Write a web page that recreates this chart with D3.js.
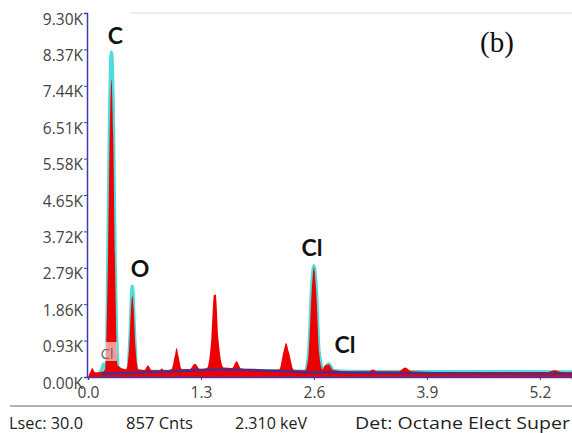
<!DOCTYPE html>
<html lang="en">
<head>
<meta charset="UTF-8">
<title>EDS spectrum (b)</title>
<script src="https://d3js.org/d3.v7.min.js"></script>
<style>
  body { margin: 0; background: #fff; }
  svg text { font-family: "Open Sans", sans-serif; }
</style>
</head>
<body>
<div id="chart"></div>
<script>
// measured spectrum (keV, counts)
const specKeV = [0.00, 0.03, 0.05, 0.08, 0.15, 0.20, 0.23, 0.25, 0.27, 0.29, 0.31, 0.34,
  0.44, 0.475, 0.495, 0.51, 0.525, 0.545, 0.58, 0.65, 0.69, 0.73, 0.82, 0.85, 0.88, 0.96,
  1.00, 1.02, 1.04, 1.08, 1.17, 1.23, 1.29, 1.37, 1.42, 1.45, 1.47, 1.50, 1.56, 1.66,
  1.71, 1.76, 2.00, 2.20, 2.25, 2.28, 2.31, 2.37, 2.50, 2.54, 2.575, 2.60, 2.625, 2.66,
  2.70, 2.73, 2.77, 2.82, 3.00, 3.24, 3.28, 3.32, 3.58, 3.65, 3.72, 4.00, 5.30, 5.37,
  5.44, 5.57];
const specCnts = [0, 150, 230, 120, 130, 200, 3000, 6200, 7600, 6200, 3000, 300,
  200, 800, 1750, 2070, 1750, 800, 200, 180, 300, 180, 170, 220, 170, 200,
  550, 740, 550, 200, 200, 340, 200, 230, 1000, 2100, 2100, 1000, 240, 230,
  400, 220, 180, 190, 650, 870, 650, 180, 170, 600, 2200, 2800, 2200, 600,
  200, 300, 320, 180, 150, 150, 190, 150, 150, 240, 150, 130, 130, 170,
  130, 120];

// fitted peaks (cyan)
const fitKeV = [0.12, 0.15, 0.18, 0.21, 0.23, 0.25, 0.27, 0.29, 0.31, 0.35, 0.46, 0.485,
  0.51, 0.535, 0.56, 0.70, 2.50, 2.54, 2.575, 2.60, 2.625, 2.66, 2.71, 2.77, 2.83, 3.00, 5.57];
const fitCnts = [120, 140, 330, 140, 3200, 6800, 8300, 6800, 3200, 150, 150, 1100,
  2320, 1100, 150, 140, 150, 600, 2300, 2840, 2300, 600, 200, 330, 160, 140, 130];

// background (purple)
const bgKeV = [0.15, 0.5, 1.0, 1.5, 1.9, 2.4, 3.0, 4.0, 5.57];
const bgCnts = [80, 110, 150, 190, 180, 130, 110, 90, 80];

const yTicks = [0, 930, 1860, 2790, 3720, 4650, 5580, 6510, 7440, 8370, 9300];
const xTicks = [0.0, 1.3, 2.6, 3.9, 5.2];

const peakLabels = [
  {t: "C", e: 0.316, c: 8500},
  {t: "O", e: 0.598, c: 2560},
  {t: "Cl", e: 2.577, c: 3090},
  {t: "Cl", e: 2.957, c: 615}
];
const footer = ["Lsec: 30.0", "857 Cnts", "2.310 keV", "Det: Octane Elect Super"];
const footerX = [9, 126, 235, 355];
const footerW = [74, 67, 72, 215];

const W = 572, H = 433;
const svg = d3.select("#chart").append("svg")
  .attr("width", W).attr("height", H);

const x = d3.scaleLinear().domain([0, 5.57]).range([88, 572]);
const y = d3.scaleLinear().domain([0, 9300]).range([377, 13]);

// light top frame
svg.append("line").attr("x1", 130).attr("x2", W).attr("y1", 13).attr("y2", 13)
  .attr("stroke", "#eeeeee").attr("stroke-width", 2);

const spec = specKeV.map((e, i) => [e, specCnts[i]]);
const fit = fitKeV.map((e, i) => [e, fitCnts[i]]);
const bg = bgKeV.map((e, i) => [e, bgCnts[i]]);

// cyan fit drawn under
svg.append("path").datum(fit)
  .attr("d", d3.line().x(d => x(d[0])).y(d => y(d[1])).curve(d3.curveMonotoneX))
  .attr("fill", "none").attr("stroke", "#4fdcdc").attr("stroke-width", 3.5)
  .attr("stroke-linejoin", "round");

svg.append("path").datum(spec)
  .attr("d", d3.area().x(d => x(d[0])).y0(y(0)).y1(d => y(d[1])).curve(d3.curveMonotoneX))
  .attr("fill", "#ee0000");

svg.append("path").datum(bg)
  .attr("d", d3.line().x(d => x(d[0])).y(d => y(d[1])).curve(d3.curveMonotoneX))
  .attr("fill", "none").attr("stroke", "#4b2d8f").attr("stroke-width", 2.5);

// axes
const yAxis = svg.append("g").attr("transform", "translate(87,0)")
  .call(d3.axisLeft(y).tickValues(yTicks).tickSize(3)
    .tickFormat(d => (d / 1000).toFixed(2) + "K"));
const xAxis = svg.append("g").attr("transform", "translate(0,377)")
  .call(d3.axisBottom(x).tickValues(xTicks).tickSize(3).tickFormat(d3.format(".1f")));
[yAxis, xAxis].forEach(g => {
  g.select(".domain").attr("stroke", "#3c3cb4").attr("stroke-width", 1.5);
  g.selectAll(".tick line").attr("stroke", "#3c3cb4");
  g.selectAll("text").attr("fill", "#444").style("font-size", "15.5px")
    .style("font-family", "'Open Sans', sans-serif");
});
yAxis.selectAll("text").attr("dy", "0.72em").attr("x", -4);
xAxis.selectAll("text").attr("dy", "0.95em");

// peak labels
svg.selectAll(".plab").data(peakLabels).join("text")
  .attr("x", d => x(d.e)).attr("y", d => y(d.c))
  .attr("text-anchor", "middle")
  .style("font-family", "Lato, sans-serif").style("font-weight", "bold")
  .style("font-size", "23px").attr("fill", "#111").text(d => d.t);

svg.append("rect").attr("x", 97).attr("y", 342).attr("width", 20).attr("height", 19)
  .attr("fill", "#fff").attr("opacity", 0.6);
svg.append("text").attr("x", 107).attr("y", 359).attr("text-anchor", "middle")
  .style("font-size", "15px").attr("fill", "#666").text("Cl");

svg.append("text").attr("x", 497).attr("y", 52).attr("text-anchor", "middle")
  .style("font-family", "'Liberation Serif', serif").style("font-size", "29px")
  .attr("fill", "#111").text("(b)");

// footer
svg.append("line").attr("x1", 10).attr("x2", W).attr("y1", 406).attr("y2", 406)
  .attr("stroke", "#999").attr("stroke-width", 1.5);
svg.selectAll(".foot").data(footer).join("text")
  .attr("x", (d, i) => footerX[i]).attr("y", 429)
  .attr("textLength", (d, i) => footerW[i]).attr("lengthAdjust", "spacingAndGlyphs")
  .style("font-size", "15.5px").attr("fill", "#222").text(d => d);
</script>
</body>
</html>
